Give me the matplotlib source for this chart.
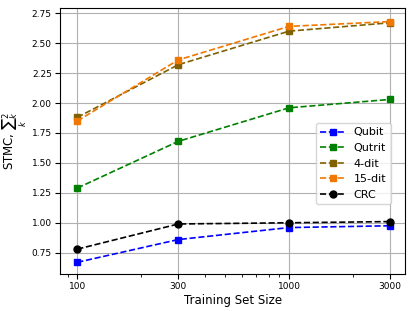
import matplotlib
matplotlib.use("Agg")
import matplotlib.pyplot as plt

sizes = [100, 300, 1000, 3000]
qubit = [0.67, 0.86, 0.96, 0.975]
qutrit = [1.29, 1.68, 1.96, 2.03]
dit4 = [1.88, 2.32, 2.60, 2.67]
dit15 = [1.85, 2.36, 2.64, 2.68]
crc = [0.78, 0.99, 1.00, 1.01]

series = [
    ("Qubit", qubit, "#0000ff", "s"),
    ("Qutrit", qutrit, "#008000", "s"),
    ("4-dit", dit4, "#806000", "s"),
    ("15-dit", dit15, "#f07800", "s"),
    ("CRC", crc, "#000000", "o"),
]

fig, ax = plt.subplots(figsize=(4.15, 3.11), dpi=100)
for name, vals, col, mk in series:
    ax.plot(sizes, vals, linestyle="--", marker=mk, color=col, label=name,
            markersize=5, linewidth=1.2)

ax.set_xscale("log")
ax.set_xlim(83, 3530)
ax.set_ylim(0.575, 2.79)
ax.set_xticks(sizes)
ax.set_xticklabels([str(s) for s in sizes])
ax.set_yticks([0.75, 1.0, 1.25, 1.5, 1.75, 2.0, 2.25, 2.5, 2.75])
ax.tick_params(labelsize=6.5, pad=2.5)
ax.grid(True, which="major", color="#b0b0b0", linewidth=0.8)
ax.set_xlabel("Training Set Size", fontsize=8.5, labelpad=2)
ax.set_ylabel(r"STMC, $\sum_k{}_k^2$", fontsize=8.5, labelpad=2)
ax.legend(loc="center right", bbox_to_anchor=(0.975, 0.415), fontsize=8,
          handlelength=2.2)

fig.subplots_adjust(left=0.145, right=0.976, top=0.973, bottom=0.12)
fig.savefig("out.png")
